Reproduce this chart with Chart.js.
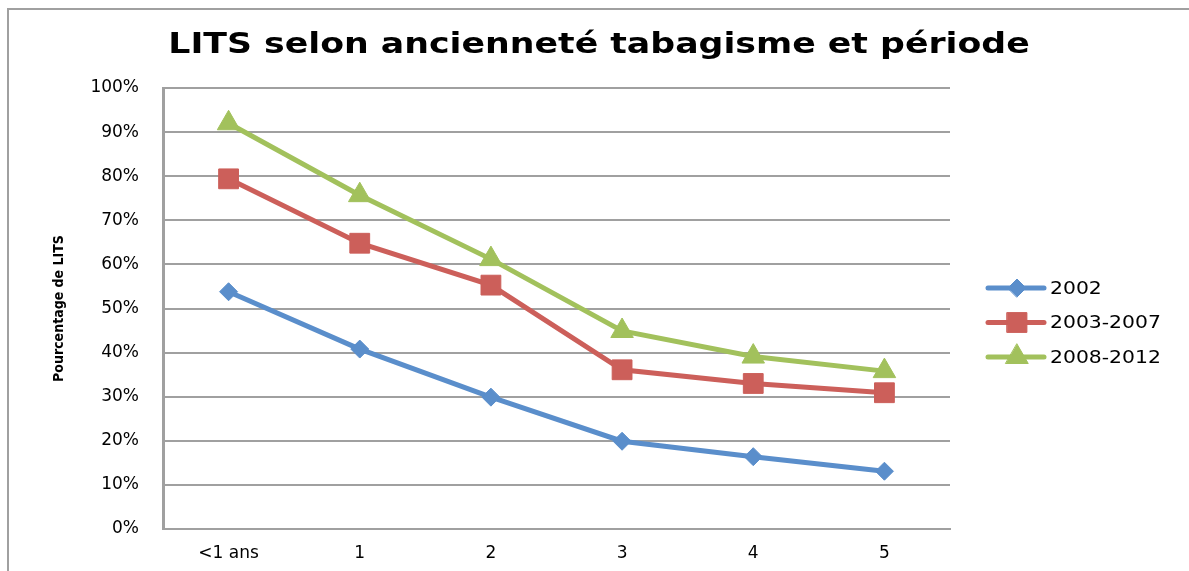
<!DOCTYPE html>
<html>
<head>
<meta charset="utf-8">
<script src="https://cdn.jsdelivr.net/npm/chart.js@4/dist/chart.umd.min.js"></script>
<style>
  html, body { margin: 0; padding: 0; background: #fff; }
  #wrap { width: 1189px; height: 571px; }
</style>
</head>
<body>
<div id="wrap"><canvas id="myChart"></canvas></div>
<script>
// données
const categories = ['<1 ans', '1', '2', '3', '4', '5'];
const seriesNames = ['2002', '2003-2007', '2008-2012'];
const values2002 = [53.8, 40.8, 29.9, 19.9, 16.4, 13.1];
const values2003_2007 = [79.4, 64.8, 55.3, 36.1, 33.0, 30.9];
const values2008_2012 = [92.0, 75.7, 61.2, 44.9, 39.1, 35.8];
const yTicks = [0, 10, 20, 30, 40, 50, 60, 70, 80, 90, 100];

const titleText = 'LITS selon ancienneté tabagisme et période';
const yTitle = 'Pourcentage de LITS';

const colors = ['#5A8ECB', '#CC5F5A', '#A2C15C'];
const markers = [
  { style: 'rectRot', radius: 9 },
  { style: 'rect', radius: 14 },
  { style: 'triangle', radius: 13 }
];

const seriesValues = [values2002, values2003_2007, values2008_2012];

const datasets = seriesValues.map(function(vals, i) {
  return {
    label: seriesNames[i],
    data: vals,
    borderColor: colors[i],
    backgroundColor: colors[i],
    borderWidth: 5,
    pointStyle: markers[i].style,
    pointRadius: markers[i].radius,
    pointHoverRadius: markers[i].radius,
    pointBorderWidth: 1,
    tension: 0
  };
});

// texte élargi horizontalement (le modèle est étiré)
function wideText(ctx, text, x, y, sx) {
  ctx.save();
  ctx.translate(x, y);
  ctx.scale(sx, 1);
  ctx.fillText(text, 0, 0);
  ctx.restore();
}

// cadre, titre et légende dessinés à la main
const decorPlugin = {
  id: 'decor',
  beforeDraw: function(chart) {
    const ctx = chart.ctx;
    ctx.save();
    ctx.strokeStyle = '#a0a0a0';
    ctx.lineWidth = 2;
    ctx.strokeRect(8, 9, chart.width + 10, chart.height + 10);
    ctx.restore();
  },
  afterDraw: function(chart) {
    const ctx = chart.ctx;
    const area = chart.chartArea;
    ctx.save();
    ctx.fillStyle = '#000';
    ctx.font = 'bold 28px "DejaVu Sans", sans-serif';
    ctx.textAlign = 'center';
    ctx.textBaseline = 'middle';
    wideText(ctx, titleText, 599, 46, 1.24);

    // légende
    chart.data.datasets.forEach(function(ds, i) {
      const y = area.top + 200 + i * 34.5;
      const x0 = area.right + 38;
      ctx.strokeStyle = ds.borderColor;
      ctx.fillStyle = ds.backgroundColor;
      ctx.lineWidth = 5;
      ctx.lineCap = 'round';
      ctx.beginPath();
      ctx.moveTo(x0, y);
      ctx.lineTo(x0 + 56, y);
      ctx.stroke();
      ctx.lineWidth = 1;
      Chart.helpers.drawPoint(ctx, {
        pointStyle: ds.pointStyle,
        radius: ds.pointRadius,
        rotation: 0,
        borderWidth: 1
      }, x0 + 29, y);
      ctx.fillStyle = '#000';
      ctx.font = '18px "DejaVu Sans", sans-serif';
      ctx.textAlign = 'left';
      ctx.textBaseline = 'middle';
      wideText(ctx, ds.label, x0 + 62, y + 1, 1.13);
    });
    ctx.restore();
  }
};

const ctx1 = document.querySelector('#myChart');

const config = {
  type: 'line',
  data: {
    labels: categories,
    datasets: datasets
  },
  options: {
    responsive: true,
    maintainAspectRatio: false,
    animation: false,
    layout: {
      padding: { top: 88, right: 239, bottom: 0, left: 0 }
    },
    plugins: {
      legend: { display: false },
      title: { display: false },
      tooltip: { enabled: false }
    },
    scales: {
      x: {
        offset: true,
        grid: { display: false, drawTicks: false },
        border: { display: true, color: '#a0a0a0', width: 2 },
        ticks: {
          color: '#000',
          padding: 14,
          font: { family: '"DejaVu Sans", sans-serif', size: 17 }
        },
        afterFit: function(scale) { scale.height = 42; }
      },
      y: {
        min: 0,
        max: 100,
        afterBuildTicks: function(scale) {
          scale.ticks = yTicks.map(function(v) { return { value: v }; });
        },
        grid: {
          color: '#a0a0a0',
          lineWidth: 2,
          drawTicks: false
        },
        border: { display: true, color: '#a0a0a0', width: 3 },
        ticks: {
          color: '#000',
          padding: 24,
          font: { family: '"DejaVu Sans", sans-serif', size: 17 },
          callback: function(v) { return v + '%'; }
        },
        title: {
          display: true,
          text: yTitle,
          color: '#000',
          padding: { top: 51, bottom: 0 },
          font: { family: '"DejaVu Sans", sans-serif', size: 14, weight: 'bold condensed' }
        },
        afterFit: function(scale) { scale.width = 163; }
      }
    }
  },
  plugins: [decorPlugin]
};

const chart1 = new Chart(ctx1, config);
</script>
</body>
</html>
